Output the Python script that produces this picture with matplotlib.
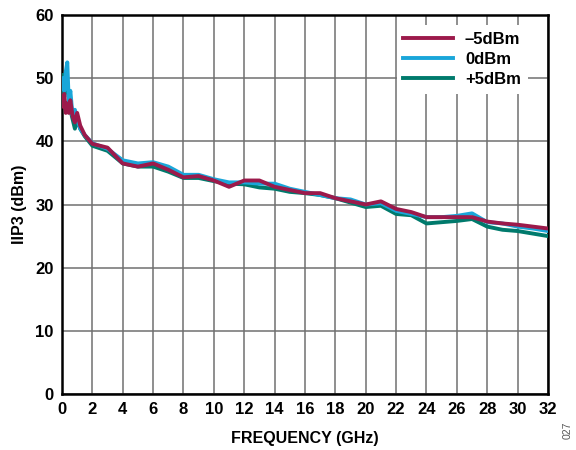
import matplotlib
matplotlib.use("Agg")
import matplotlib.pyplot as plt

plt.rcParams["font.family"] = ["Liberation Sans", "DejaVu Sans"]
plt.rcParams["font.weight"] = "bold"

# frequency points (GHz) and IIP3 (dBm) per input power
freq_lo = [0.05, 0.15, 0.25, 0.35, 0.45, 0.55, 0.7, 0.85, 1.0, 1.2, 1.5]
freq_hi = list(range(2, 33))
freq = freq_lo + freq_hi

iip3_m5 = [45.5, 47.5, 44.5, 46.0, 44.5, 46.5, 44.0, 43.0, 44.5, 42.5, 41.0,
           39.6, 39.0, 36.5, 36.0, 36.5, 35.5, 34.3, 34.5, 33.8, 32.8,
           33.8, 33.8, 32.8, 32.3, 31.8, 31.8, 31.0, 30.5, 30.0, 30.5,
           29.3, 28.8, 28.0, 28.0, 28.0, 28.0, 27.3, 27.0, 26.8, 26.5, 26.2]
iip3_0 = [50.0, 48.0, 51.0, 52.5, 46.0, 48.0, 44.0, 45.0, 43.5, 42.0, 41.0,
          39.7, 38.8, 37.0, 36.5, 36.7, 36.0, 34.7, 34.7, 34.0, 33.5,
          33.5, 33.3, 33.3, 32.5, 32.0, 31.5, 31.0, 30.8, 30.0, 30.2,
          29.0, 28.5, 28.0, 28.0, 28.2, 28.6, 27.2, 27.0, 26.5, 26.2, 25.8]
iip3_p5 = [50.5, 47.0, 49.0, 48.0, 47.5, 45.0, 43.5, 42.0, 43.5, 42.0, 40.8,
           39.3, 38.5, 36.5, 36.0, 36.0, 35.2, 34.2, 34.2, 33.7, 33.3,
           33.2, 32.7, 32.5, 32.0, 31.8, 31.5, 31.0, 30.3, 29.6, 29.8,
           28.5, 28.3, 27.0, 27.2, 27.4, 27.7, 26.5, 26.0, 25.8, 25.4, 25.0]

labels = ["\u20135dBm", "0dBm", "+5dBm"]
colors = ["#9C1A4B", "#1AA6D9", "#007A6C"]

fig = plt.figure(figsize=(5.76, 4.5), dpi=100)
ax = fig.add_axes([0.1076, 0.1244, 0.8438, 0.8423])

lp5, = ax.plot(freq, iip3_p5, color=colors[2], lw=2.8, label=labels[2], zorder=3)
l0, = ax.plot(freq, iip3_0, color=colors[1], lw=2.8, label=labels[1], zorder=4)
lm5, = ax.plot(freq, iip3_m5, color=colors[0], lw=2.8, label=labels[0], zorder=5)

ax.set_xlim(0, 32)
ax.set_ylim(0, 60)
ax.set_xticks(range(0, 33, 2))
ax.set_yticks(range(0, 61, 10))
ax.grid(True, color="#707070", lw=1.1)
ax.tick_params(length=0, labelsize=12, pad=6)
for lab in ax.get_xticklabels() + ax.get_yticklabels():
    lab.set_fontweight("bold")
for sp in ax.spines.values():
    sp.set_linewidth(1.8)

ax.set_xlabel("FREQUENCY (GHz)", fontsize=11.5, fontweight="bold", labelpad=10)
ax.set_ylabel("IIP3 (dBm)", fontsize=11.5, fontweight="bold", labelpad=6)

leg = ax.legend(handles=[lm5, l0, lp5], loc="upper right",
                bbox_to_anchor=(0.975, 0.995), frameon=True, fancybox=False,
                edgecolor="none", framealpha=1.0, handlelength=3.0,
                handletextpad=0.7,
                prop={"weight": "bold", "size": 12}, labelspacing=0.3,
                borderpad=0.4)
leg.set_zorder(10)

fig.text(0.985, 0.025, "027", rotation=90, fontsize=7.5, color="#555555",
         fontweight="normal", ha="center", va="bottom")

fig.savefig("out.png", dpi=100)
